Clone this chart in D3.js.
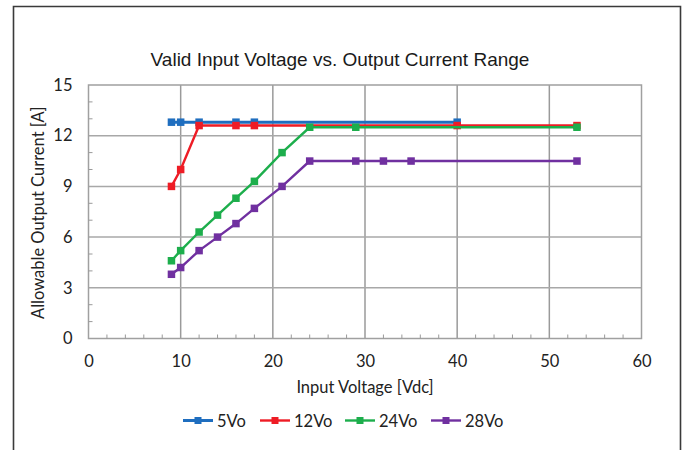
<!DOCTYPE html>
<html><head><meta charset="utf-8">
<script src="https://cdn.jsdelivr.net/npm/d3@7"></script>
<style>html,body{margin:0;padding:0;background:#fff}</style>
</head><body>
<svg id="c" width="686" height="450"></svg>
<script>
const seriesNames = ["5Vo", "12Vo", "24Vo", "28Vo"];
const seriesColors = ["#1F6EBF", "#EE1C25", "#1DAE4C", "#7030A0"];
const x5 = [9, 10, 12, 16, 18, 40];
const y5 = [12.8, 12.8, 12.8, 12.8, 12.8, 12.8];
const x12 = [9, 10, 12, 16, 18, 40, 53];
const y12 = [9, 10, 12.6, 12.6, 12.6, 12.6, 12.6];
const x24 = [9, 10, 12, 14, 16, 18, 21, 24, 29, 53];
const y24 = [4.6, 5.2, 6.3, 7.3, 8.3, 9.3, 11, 12.5, 12.5, 12.5];
const x28 = [9, 10, 12, 14, 16, 18, 21, 24, 29, 32, 35, 53];
const y28 = [3.8, 4.2, 5.2, 6.0, 6.8, 7.7, 9.0, 10.5, 10.5, 10.5, 10.5, 10.5];
const xTicks = [0, 10, 20, 30, 40, 50, 60];
const yTicks = [0, 3, 6, 9, 12, 15];
const titleText = "Valid Input Voltage vs. Output Current Range";
const xTitle = "Input Voltage [Vdc]";
const yTitle = "Allowable Output Current [A]";

const series = [[x5, y5], [x12, y12], [x24, y24], [x28, y28]].map((d, i) => ({
  name: seriesNames[i], color: seriesColors[i],
  pts: d[0].map((v, j) => ({x: v, y: d[1][j]}))
}));

const svg = d3.select("#c");
const L = 88.5, R = 641.5, T = 85, B = 338.5;
const x = d3.scaleLinear().domain([0, 60]).range([L, R]);
const y = d3.scaleLinear().domain([0, 15]).range([B, T]);
const fontTick = "Lato, 'Open Sans', sans-serif";
const fs = 16.5;

// outer frame
svg.append("path").attr("d", `M13.5,452 V6.5 H680.5 V452`).attr("fill", "none")
  .attr("stroke", "#3a3a3a").attr("stroke-width", 1.6);

// title
svg.append("text").attr("x", 340).attr("y", 66).attr("text-anchor", "middle")
  .attr("font-family", "'Liberation Sans', Arial, sans-serif").attr("font-size", 19)
  .attr("fill", "#1a1a1a").text(titleText);

const grid = svg.append("g");
grid.selectAll("line.vx").data(xTicks.slice(1, -1)).join("line")
  .attr("x1", d => x(d)).attr("x2", d => x(d)).attr("y1", T).attr("y2", B)
  .attr("stroke", "#9a9a9a").attr("stroke-width", 1.5);
grid.selectAll("line.hy").data(yTicks.slice(1, -1)).join("line")
  .attr("x1", L).attr("x2", R).attr("y1", d => y(d)).attr("y2", d => y(d))
  .attr("stroke", "#a8a8a8").attr("stroke-width", 1.5);
grid.append("rect").attr("x", L).attr("y", T).attr("width", R - L).attr("height", B - T)
  .attr("fill", "none").attr("stroke", "#a0a0a0").attr("stroke-width", 1.5);

const xMinor = d3.range(0, 61, 2).filter(v => v % 10 !== 0);
const yMinor = d3.range(0, 16, 1).filter(v => v % 3 !== 0);
grid.selectAll("line.mx").data(xMinor).join("line")
  .attr("x1", d => x(d)).attr("x2", d => x(d)).attr("y1", B).attr("y2", B - 4)
  .attr("stroke", "#9a9a9a").attr("stroke-width", 1);
grid.selectAll("line.my").data(yMinor).join("line")
  .attr("x1", L).attr("x2", L + 4).attr("y1", d => y(d)).attr("y2", d => y(d))
  .attr("stroke", "#9a9a9a").attr("stroke-width", 1);

const xAxis = svg.append("g").attr("transform", `translate(0,${B})`)
  .call(d3.axisBottom(x).tickValues(xTicks).tickSize(0).tickPadding(17));
const yAxis = svg.append("g").attr("transform", `translate(${L},0)`)
  .call(d3.axisLeft(y).tickValues(yTicks).tickSize(0).tickPadding(16));
[xAxis, yAxis].forEach(a => {
  a.select(".domain").remove();
  a.selectAll("text").attr("font-family", fontTick).attr("font-size", fs).attr("fill", "#222");
});

svg.append("text").attr("x", (L + R) / 2).attr("y", 393).attr("text-anchor", "middle")
  .attr("font-family", fontTick).attr("font-size", fs).attr("fill", "#222").text(xTitle);
svg.append("text").attr("transform", `translate(44,${(T + B) / 2 + 1}) rotate(-90)`)
  .attr("text-anchor", "middle")
  .attr("font-family", fontTick).attr("font-size", fs).attr("fill", "#222").text(yTitle);

const line = d3.line().x(d => x(d.x)).y(d => y(d.y));
const ms = 7.5;
series.forEach((s, i) => {
  const g = svg.append("g");
  g.append("path").datum(s.pts).attr("d", line).attr("fill", "none")
    .attr("stroke", s.color).attr("stroke-width", i === 0 ? 3 : 2.4);
  g.selectAll("rect").data(s.pts).join("rect")
    .attr("x", d => x(d.x) - ms / 2).attr("y", d => y(d.y) - ms / 2)
    .attr("width", ms).attr("height", ms).attr("fill", s.color);
});

const legX = [183, 260, 345, 431];
const legY = 420.5;
series.forEach((s, i) => {
  const g = svg.append("g");
  g.append("line").attr("x1", legX[i]).attr("x2", legX[i] + 30).attr("y1", legY).attr("y2", legY)
    .attr("stroke", s.color).attr("stroke-width", i === 0 ? 3 : 2.4);
  g.append("rect").attr("x", legX[i] + 15 - 3.5).attr("y", legY - 3.5).attr("width", 7).attr("height", 7)
    .attr("fill", s.color);
  g.append("text").attr("x", legX[i] + 34).attr("y", legY + 6)
    .attr("font-family", fontTick).attr("font-size", fs).attr("fill", "#222").text(s.name);
});
</script>
</body></html>
